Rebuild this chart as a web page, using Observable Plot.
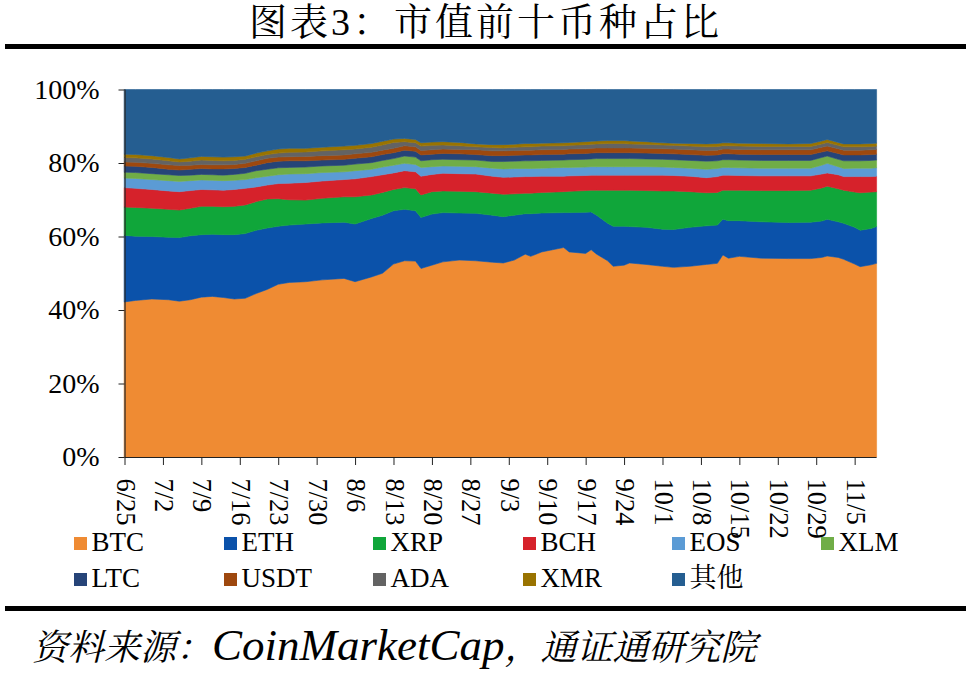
<!DOCTYPE html>
<html>
<head>
<meta charset="utf-8">
<script src="https://cdn.jsdelivr.net/npm/d3@7"></script>
<script src="https://cdn.jsdelivr.net/npm/@observablehq/plot@0.6"></script>
<style>
  html, body { margin: 0; padding: 0; background: #fff; }
  #page { position: relative; width: 971px; height: 676px; overflow: hidden; background: #fff; }
  #title { position: absolute; left: 0; top: 0; width: 971px; text-align: center; font-family: "Liberation Serif", "Noto Serif CJK SC", serif; font-size: 38px; line-height: 44px; letter-spacing: 3px; color: #000; white-space: nowrap; }
  .rule { position: absolute; left: 5px; width: 961px; height: 5px; background: #000; }
  #chart { position: absolute; left: 0; top: 50px; }
  #legend { position: absolute; left: 0; top: 520px; }
  #foot { position: absolute; left: 32px; top: 620px; font-family: "Liberation Serif", "Noto Serif CJK SC", serif; font-style: italic; font-size: 36px; line-height: 50px; color: #000; white-space: nowrap; }
  #foot .lat { font-size: 45px; }
</style>
</head>
<body>
<div id="page">
  <div id="title">图表3：市值前十币种占比</div>
  <div class="rule" style="top:44px"></div>
  <div id="chart"></div>
  <div id="legend"></div>
  <div class="rule" style="top:606px"></div>
  <div id="foot">资料来源：<span class="lat">CoinMarketCap</span>，通证通研究院</div>
</div>
<script>
// ---- data: share of total crypto market cap, % ----
const dates = ["2018-06-25","2018-06-27","2018-06-30","2018-07-03","2018-07-05","2018-07-07","2018-07-09","2018-07-11","2018-07-13","2018-07-15",
  "2018-07-17","2018-07-19","2018-07-21","2018-07-23","2018-07-25","2018-07-28","2018-07-31","2018-08-04","2018-08-06","2018-08-09",
  "2018-08-11","2018-08-13","2018-08-15","2018-08-17","2018-08-18","2018-08-20","2018-08-22","2018-08-25","2018-08-28","2018-08-31",
  "2018-09-02","2018-09-04","2018-09-06","2018-09-07","2018-09-09","2018-09-13","2018-09-14","2018-09-17","2018-09-18","2018-09-19",
  "2018-09-21","2018-09-22","2018-09-24","2018-09-25","2018-09-28","2018-10-01","2018-10-03","2018-10-06","2018-10-09","2018-10-11",
  "2018-10-12","2018-10-13","2018-10-15","2018-10-19","2018-10-24","2018-10-28","2018-10-30","2018-10-31","2018-11-02","2018-11-03",
  "2018-11-05","2018-11-06","2018-11-08","2018-11-09"];

const btc = [42.2,42.6,43.0,42.8,42.4,42.8,43.5,43.7,43.4,43.0, 43.2,44.5,45.6,47.0,47.5,47.7,48.2,48.6,47.7,49.0,
  50.0,52.5,53.4,53.3,51.3,52.2,53.1,53.6,53.4,53.0, 52.8,53.6,55.2,54.6,55.8,57.0,55.8,55.4,56.4,55.2,
  53.4,51.9,52.2,52.8,52.4,51.9,51.6,51.9,52.4,52.7, 55.0,54.1,54.6,54.1,54.0,54.0,54.3,54.7,54.3,53.8, 52.5,51.8,52.3,52.7];
const eth = [18.1,17.5,17.0,17.0,17.3,17.4,17.0,16.9,17.1,17.5, 17.6,17.2,16.7,15.8,15.6,15.7,15.5,15.3,15.7,15.9,
  15.8,14.5,14.0,13.7,13.9,13.9,13.4,12.8,12.9,12.8, 12.6,12.2,11.0,11.6,10.6,9.5,10.7,11.2,10.3,10.6,
  10.2,10.9,10.6,9.9,10.1,10.1,10.3,10.6,10.5,10.4, 9.7,10.2,9.7,9.9,9.8,9.9,9.9,10.0,9.7,9.8, 10.0,9.9,9.9,10.0];
const xrp = [7.7,7.8,7.7,7.6,7.5,7.5,7.7,7.6,7.6,7.7, 7.8,7.8,7.9,7.5,6.9,6.5,6.7,6.9,7.4,6.4,
  6.2,5.8,5.9,6.0,6.1,6.1,5.9,5.9,5.9,6.0, 6.1,5.8,5.6,5.6,5.6,5.7,5.8,5.9,5.9,6.8,
  9.0,9.8,9.8,9.9,10.0,10.4,10.5,9.7,9.0,8.9, 7.9,8.3,8.3,8.5,8.7,8.7,9.0,9.0,9.0,9.0, 9.6,10.2,9.9,9.5];
const bch = [5.3,5.2,5.1,5.0,5.0,4.8,4.6,4.5,4.5,4.6, 4.5,4.0,3.8,4.1,4.5,4.8,4.7,4.7,4.9,5.0,
  4.8,4.5,4.6,4.6,5.1,4.7,4.8,4.8,4.8,4.6, 4.6,4.6,4.5,4.5,4.4,4.2,4.2,4.1,4.1,4.1,
  4.1,4.1,4.1,4.1,4.2,4.3,4.2,4.2,4.1,4.3, 4.1,4.1,4.0,4.0,4.0,3.9,3.8,3.6,3.8,3.7, 4.2,4.4,4.2,4.2];
const eos = [2.6,2.7,2.7,2.8,2.8,2.7,2.6,2.6,2.6,2.5, 2.4,2.5,2.4,2.4,2.5,2.4,2.3,2.1,2.2,2.0,
  2.1,2.1,2.0,2.0,2.4,2.1,2.0,2.0,2.0,2.2, 2.3,2.3,2.2,2.2,2.2,2.4,2.3,2.3,2.3,2.3,
  2.3,2.3,2.3,2.3,2.3,2.2,2.2,2.2,2.3,2.2, 2.1,2.1,2.1,2.1,2.1,2.1,2.4,2.6,2.2,2.2, 2.3,2.3,2.3,2.3];
const xlm = [1.6,1.6,1.6,1.6,1.6,1.5,1.5,1.5,1.5,1.6, 1.7,1.9,1.9,1.9,1.8,1.8,1.8,1.8,1.8,1.8,
  1.8,1.8,2.0,2.0,1.8,1.9,1.8,1.8,1.8,1.8, 2.0,2.0,2.1,2.1,2.1,2.0,2.1,2.1,2.1,2.2,
  2.2,2.2,2.2,2.2,2.1,2.1,2.1,2.1,2.2,2.1, 2.1,2.1,2.1,2.1,2.1,2.1,2.1,2.0,2.0,2.1, 2.0,2.0,2.1,2.1];
const ltc = [1.7,1.7,1.7,1.5,1.5,1.6,1.6,1.6,1.7,1.6, 1.6,1.5,1.8,1.8,1.8,1.7,1.6,1.6,1.6,1.6,
  1.6,1.6,1.6,1.6,1.6,1.5,1.6,1.6,1.5,1.6, 1.6,1.6,1.6,1.6,1.6,1.6,1.6,1.6,1.6,1.6,
  1.6,1.6,1.6,1.6,1.6,1.6,1.6,1.6,1.6,1.6, 1.6,1.6,1.6,1.6,1.6,1.6,1.5,1.4,1.6,1.6, 1.6,1.6,1.6,1.6];
const usdt = [1.1,1.1,1.1,1.2,1.2,1.1,1.1,1.1,1.1,1.1, 1.1,1.2,1.2,1.1,1.1,1.2,1.2,1.2,1.2,1.2,
  1.2,1.2,1.2,1.2,1.2,1.2,1.2,1.2,1.3,1.3, 1.3,1.3,1.3,1.3,1.3,1.3,1.3,1.3,1.3,1.3,
  1.3,1.3,1.3,1.3,1.3,1.3,1.3,1.3,1.3,1.3, 1.3,1.3,1.3,1.3,1.3,1.3,1.3,1.3,1.3,1.3, 1.3,1.3,1.3,1.3];
const ada = [1.2,1.2,1.2,1.1,1.0,1.1,1.2,1.2,1.1,1.1, 1.1,1.1,1.0,1.1,1.2,1.2,1.3,1.4,1.3,1.4,
  1.4,1.6,1.1,1.1,1.2,1.2,1.1,1.0,0.8,0.9, 0.8,0.9,0.9,0.9,1.0,1.0,1.0,1.1,1.1,1.1,
  1.2,1.2,1.2,1.1,1.1,1.0,1.0,1.0,1.0,1.0, 0.9,0.9,0.9,0.9,0.9,0.9,0.9,1.0,0.9,0.9, 0.9,0.9,0.9,0.9];
const xmr = [0.9,0.9,0.9,0.9,0.8,0.9,1.0,1.0,1.0,1.0, 0.9,1.0,1.0,1.1,1.1,1.0,1.0,1.0,1.0,1.0,
  1.0,0.9,0.9,0.9,0.9,0.9,0.9,0.9,0.8,0.8, 0.9,0.8,0.9,0.9,0.8,0.8,0.8,0.8,0.8,0.8,
  0.8,0.8,0.8,0.8,0.7,0.6,0.6,0.7,0.8,0.8, 0.8,0.8,0.8,0.8,0.7,0.8,0.8,0.8,0.8,0.8, 0.8,0.8,0.8,0.8];
const other = [17.6,17.7,18.0,18.5,18.9,18.6,18.2,18.3,18.4,18.3, 18.1,17.3,16.7,16.2,16.0,16.0,15.7,15.4,15.2,14.7,
  14.1,13.5,13.3,13.6,14.5,14.3,14.2,14.4,14.8,15.0, 15.0,14.9,14.7,14.7,14.6,14.5,14.4,14.2,14.1,14.0,
  13.9,13.9,13.9,14.0,14.2,14.5,14.6,14.7,14.8,14.7, 14.5,14.5,14.6,14.7,14.8,14.7,14.0,13.6,14.4,14.8, 14.8,14.8,14.7,14.6];

const seriesNames = ["BTC","ETH","XRP","BCH","EOS","XLM","LTC","USDT","ADA","XMR","其他"];
const seriesColors = ["#EF8B33","#0B52AA","#10A63A","#D6222B","#5B9BD5","#70AD47","#264478","#9E480E","#636363","#997300","#255E91"];
const seriesValues = [btc, eth, xrp, bch, eos, xlm, ltc, usdt, ada, xmr, other];

const tickLabels = ["6/25","7/2","7/9","7/16","7/23","7/30","8/6","8/13","8/20","8/27","9/3","9/10","9/17","9/24","10/1","10/8","10/15","10/22","10/29","11/5"];
const yTicks = [0, 20, 40, 60, 80, 100];

// ---- long table for Plot ----
const rows = [];
seriesNames.forEach((name, i) => {
  seriesValues[i].forEach((v, j) => rows.push({date: new Date(dates[j] + "T00:00:00Z"), series: name, value: v}));
});
const tickDates = tickLabels.map(s => { const [m, d] = s.split("/").map(Number); return new Date(Date.UTC(2018, m - 1, d)); });
const xDomain = [new Date(dates[0] + "T00:00:00Z"), new Date(dates[dates.length - 1] + "T00:00:00Z")];

const serif = '"Liberation Serif", serif';

const chart = Plot.plot({
  width: 971,
  height: 470,
  marginLeft: 124.5,
  marginRight: 94.4,
  marginTop: 39.5,
  marginBottom: 63,
  style: {fontFamily: serif, fontSize: "27px", color: "#000", background: "transparent", overflow: "visible"},
  x: {type: "utc", domain: xDomain},
  y: {domain: [0, 100]},
  color: {domain: seriesNames, range: seriesColors},
  marks: [
    Plot.areaY(rows, {x: "date", y: "value", z: "series", fill: "series", stroke: "series", strokeWidth: 0.6, order: seriesNames, curve: "linear"}),
    Plot.ruleY([0], {stroke: "#222", strokeWidth: 1.2}),
    Plot.ruleX([xDomain[0]], {stroke: "#222", strokeWidth: 1.2}),
    Plot.axisY({ticks: yTicks, tickFormat: d => d + "%", tickSize: 6, tickPadding: 19.5, fontSize: 28, fontFamily: serif, stroke: "#222", label: null}),
    Plot.axisX({ticks: tickDates, tickFormat: d => `${d.getUTCMonth() + 1}/${d.getUTCDate()}`, tickRotate: 90, tickSize: 8, tickPadding: 13, fontSize: 26.5, fontFamily: serif, stroke: "#222", label: null})
  ]
});
document.getElementById("chart").appendChild(chart);

// ---- legend ----
const legendCols = [74, 224, 373, 523, 672, 821];
const svg = d3.select("#legend").append("svg").attr("width", 971).attr("height", 86);
seriesNames.forEach((name, i) => {
  const col = i < 6 ? i : i - 6;
  const row = i < 6 ? 0 : 1;
  const x = legendCols[col];
  const y = 31 + row * 36;
  svg.append("rect").attr("x", x).attr("y", y - 14).attr("width", 13).attr("height", 13).attr("fill", seriesColors[i]);
  svg.append("text").attr("x", x + 17.5).attr("y", y)
    .attr("font-family", '"Liberation Serif", "Noto Serif CJK SC", serif').attr("font-size", 27).attr("fill", "#000").text(name);
});
</script>
</body>
</html>
